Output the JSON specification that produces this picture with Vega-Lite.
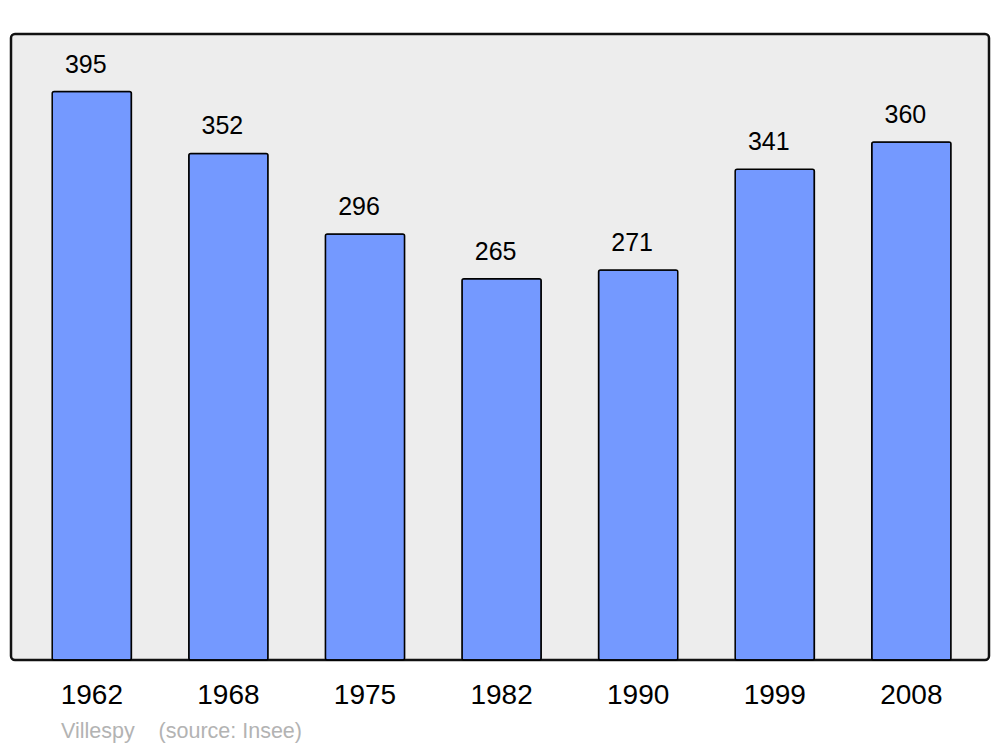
{
  "$schema": "https://vega.github.io/schema/vega-lite/v6.json",
  "width": 978,
  "height": 626,
  "autosize": {"type": "none"},
  "padding": {"left": 11, "top": 34, "right": 11, "bottom": 87},
  "background": "#ffffff",
  "config": {
    "view": {"fill": "#ededed", "stroke": "#111111", "strokeWidth": 2.5, "cornerRadius": 4},
    "font": "Liberation Sans"
  },
  "title": {
    "text": "Villespy\u00a0\u00a0\u00a0\u00a0(source: Insee)",
    "orient": "bottom",
    "anchor": "start",
    "dx": 50,
    "offset": 12,
    "fontSize": 21.5,
    "fontWeight": "normal",
    "color": "#b3b3b3",
    "font": "Liberation Sans"
  },
  "data": {
    "values": [
      {"year": "1962", "pop": 395},
      {"year": "1968", "pop": 352},
      {"year": "1975", "pop": 296},
      {"year": "1982", "pop": 265},
      {"year": "1990", "pop": 271},
      {"year": "1999", "pop": 341},
      {"year": "2008", "pop": 360}
    ]
  },
  "encoding": {
    "x": {
      "field": "year",
      "type": "ordinal",
      "sort": null,
      "scale": {"paddingInner": 0.42, "paddingOuter": 0.29, "align": 0.52},
      "axis": {
        "title": null,
        "labelAngle": 0,
        "domain": false,
        "ticks": false,
        "labelFontSize": 28,
        "labelColor": "#000000",
        "labelPadding": 21,
        "labelFont": "Liberation Sans"
      }
    },
    "y": {
      "field": "pop",
      "type": "quantitative",
      "scale": {"domain": [0, 435], "nice": false},
      "axis": null
    }
  },
  "layer": [
    {
      "mark": {"type": "bar", "fill": "#7499ff", "stroke": "#000000", "strokeWidth": 1.5, "cornerRadius": 2}
    },
    {
      "mark": {"type": "text", "baseline": "bottom", "dx": -6, "dy": -14, "fontSize": 25, "color": "#000000", "font": "Liberation Sans"},
      "encoding": {"text": {"field": "pop", "type": "quantitative"}}
    }
  ]
}
